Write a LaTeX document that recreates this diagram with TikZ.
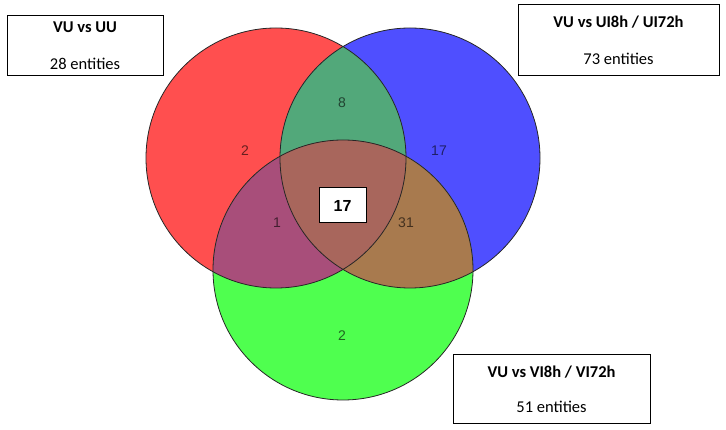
\documentclass[tikz,border=0pt]{standalone}
\usepackage{fontspec}
\setmainfont{Carlito}
\newfontfamily\numfont{Liberation Sans}
\usetikzlibrary{positioning,calc}
\definecolor{vred}{HTML}{FF4F4F}
\definecolor{vblue}{HTML}{4F4FFF}
\definecolor{vgreen}{HTML}{4FFF4F}
\definecolor{vredblue}{HTML}{52A87A}
\definecolor{vredgreen}{HTML}{A84E7A}
\definecolor{vbluegreen}{HTML}{A87A4E}
\definecolor{vall}{HTML}{A8665C}

\begin{document}
\begin{tikzpicture}[
        x=1pt, y=-1pt,
        setbox/.style={draw, line width=1pt, fill=white, align=center, inner sep=0pt,
            font=\fontsize{16.5}{19}\selectfont},
        count/.style={font=\numfont\fontsize{14}{16}\selectfont, text=black, text opacity=0.6},
        rim/.style={draw=black!85, line width=0.8pt},
        circle radius/.style={radius=130pt},
    ]
        \useasboundingbox (0,0) rectangle (726,430);

        % --- circle centres ---
        \coordinate (cu) at (276,158);
        \coordinate (ci) at (410,158);
        \coordinate (cv) at (343,270);

        % single sets
        \fill[vred] (cu) circle[circle radius];
        \fill[vblue] (ci) circle[circle radius];
        \fill[vgreen] (cv) circle[circle radius];

        % pairwise overlaps
        \begin{scope}
            \clip (cu) circle[circle radius];
            \fill[vredblue] (ci) circle[circle radius];
        \end{scope}
        \begin{scope}
            \clip (cu) circle[circle radius];
            \fill[vredgreen] (cv) circle[circle radius];
        \end{scope}
        \begin{scope}
            \clip (ci) circle[circle radius];
            \fill[vbluegreen] (cv) circle[circle radius];
        \end{scope}

        % all three
        \begin{scope}
            \clip (cu) circle[circle radius];
            \clip (ci) circle[circle radius];
            \fill[vall] (cv) circle[circle radius];
        \end{scope}

        % outlines
        \draw[rim] (cu) circle[circle radius];
        \draw[rim] (ci) circle[circle radius];
        \draw[rim] (cv) circle[circle radius];

        % region counts
        \node[count] (onlyu) at (245,151) {2};
        \node[count] (ui) at (342,103) {8};
        \node[count] (onlyi) at (439,151) {17};
        \node[count] (uv) at (277,223) {1};
        \node[count] (iv) at (406,223) {31};
        \node[count] (onlyv) at (342,336) {2};

        \node[draw, line width=1pt, fill=white, minimum width=47pt, minimum height=35pt,
            font=\numfont\bfseries\fontsize{16}{18}\selectfont] (core) at (342.5,205.5) {17};

        % --- set labels ---
        \node[setbox, minimum width=156pt, minimum height=60pt] (lblu) at (85,46)
            {\textbf{VU vs UU}\\[18pt]28 entities};
        \node[setbox, minimum width=201pt, minimum height=71pt] (lbli) at (618.5,40.5)
            {\textbf{VU vs UI8h / UI72h}\\[18pt]73 entities};
        \node[setbox, minimum width=197pt, minimum height=68pt] (lblv) at (551.5,389)
            {\textbf{VU vs VI8h / VI72h}\\[16pt]51 entities};

\end{tikzpicture}
\end{document}
